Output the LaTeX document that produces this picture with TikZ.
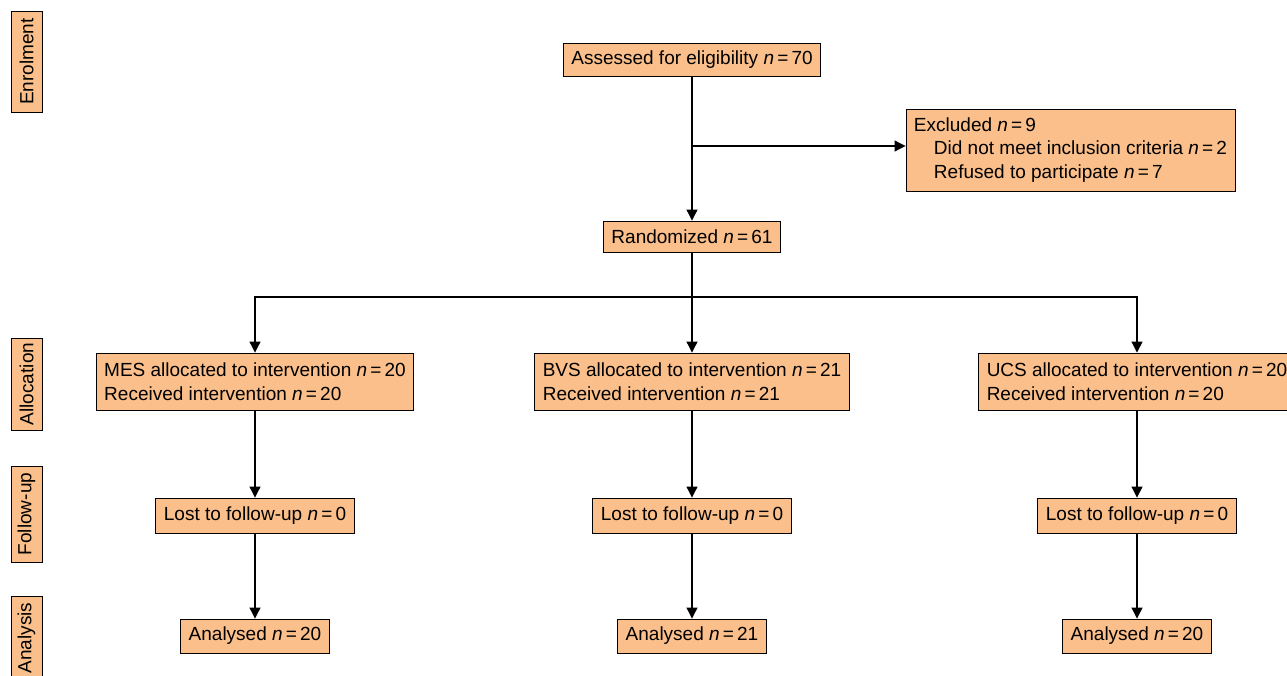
\documentclass[tikz,border=0pt]{standalone}
\usepackage{fontspec}
\setmainfont{Liberation Sans}
\usetikzlibrary{arrows.meta, positioning}
\definecolor{boxorange}{RGB}{250,191,138}
\newcommand{\ncount}[1]{\textit{n}\,=\,#1}

\begin{document}
\begin{tikzpicture}[
  x=1pt, y=-1pt,
  font=\fontsize{19}{23.5}\selectfont,
  flowbox/.style={draw, line width=0.9pt, fill=boxorange, inner xsep=8pt, inner ysep=0pt, minimum height=33pt, align=left},
  stage/.style={draw, line width=0.9pt, fill=boxorange, rotate=90, inner sep=0pt, minimum height=31pt},
  line/.style={draw, line width=1.1pt},
  arr/.style={line, -{Triangle[length=11pt, width=11pt]}}
]
\useasboundingbox (0,0) rectangle (1287,676);

% Stages
\node[stage, minimum width=101pt] (enrol) at (26.5, 61.5) {Enrolment};
\node[stage, minimum width=92pt] (alloc) at (26.5, 384) {Allocation};
\node[stage, minimum width=96pt] (follow) at (26.5, 514) {Follow-up};
\node[stage, minimum width=84pt] (analysis) at (26.5, 638) {Analysis};

% Enrolment
\node[flowbox] (assess) at (692, 60) {Assessed for eligibility \ncount{70}};
\node[flowbox, minimum height=82pt] (excl) at (1070.5, 150) {Excluded \ncount{9}\\
  \hspace*{20pt}Did not meet inclusion criteria \ncount{2}\\
  \hspace*{20pt}Refused to participate \ncount{7}};
\node[flowbox, minimum height=31pt] (rand) at (692, 236.5) {Randomized \ncount{61}};

% Allocation
\node[flowbox, minimum height=57pt] (mes) at (255, 381.5) {MES allocated to intervention \ncount{20}\\Received intervention \ncount{20}};
\node[flowbox, minimum height=57pt] (bvs) at (692, 381.5) {BVS allocated to intervention \ncount{21}\\Received intervention \ncount{21}};
\node[flowbox, minimum height=57pt] (ucs) at (1137, 381.5) {UCS allocated to intervention \ncount{20}\\Received intervention \ncount{20}};

% Follow-up
\node[flowbox, minimum height=35pt] (lostmes) at (255, 515.5) {Lost to follow-up \ncount{0}};
\node[flowbox, minimum height=35pt] (lostbvs) at (692, 515.5) {Lost to follow-up \ncount{0}};
\node[flowbox, minimum height=35pt] (lostucs) at (1137, 515.5) {Lost to follow-up \ncount{0}};

% Analysis
\node[flowbox, minimum height=34pt] (anames) at (255, 636) {Analysed \ncount{20}};
\node[flowbox, minimum height=34pt] (anabvs) at (692, 636) {Analysed \ncount{21}};
\node[flowbox, minimum height=34pt] (anaucs) at (1137, 636) {Analysed \ncount{20}};

% Connections
\coordinate (exclpoint) at ([yshift=4pt]excl.west);
\coordinate (split) at (692, 297);
\draw[arr] (assess) -- (rand);
\draw[arr] (assess.south |- exclpoint) -- (exclpoint);
\draw[line] (rand) -- (split);
\draw[arr] (split) -| (mes);
\draw[arr] (split) -- (bvs);
\draw[arr] (split) -| (ucs);

\draw[arr] (mes) -- (lostmes);
\draw[arr] (bvs) -- (lostbvs);
\draw[arr] (ucs) -- (lostucs);
\draw[arr] (lostmes) -- (anames);
\draw[arr] (lostbvs) -- (anabvs);
\draw[arr] (lostucs) -- (anaucs);

\end{tikzpicture}
\end{document}
